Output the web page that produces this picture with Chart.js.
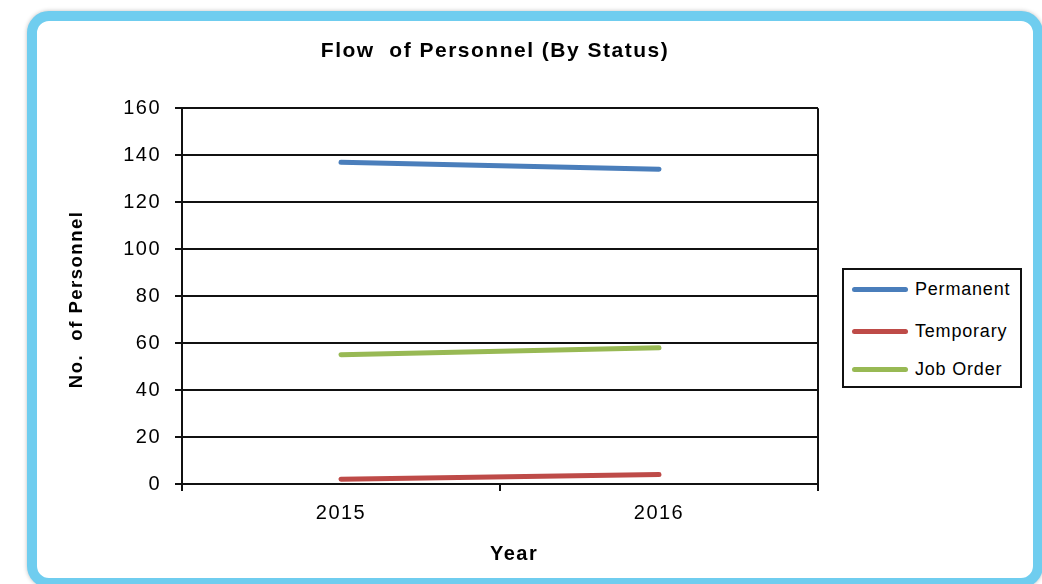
<!DOCTYPE html>
<html>
<head>
<meta charset="utf-8">
<script src="https://cdn.jsdelivr.net/npm/chart.js@4"></script>
<style>
  html, body { margin: 0; padding: 0; background: #fff; overflow: hidden; }
  #frame {
    position: absolute; left: 27px; top: 11px; width: 1016px; height: 577px;
    box-sizing: border-box; border: 10px solid #6fcdef; border-radius: 22px;
    background: #fff; box-shadow: 0 0 4px rgba(0,0,0,0.25);
  }
  #chart { position: absolute; left: 0; top: 0; }
  #legend {
    position: absolute; left: 842px; top: 268px; width: 180px; height: 120px;
    box-sizing: border-box; border: 2px solid #111; background: #fff;
    font-family: "Liberation Sans", Arial, sans-serif; font-size: 18px; letter-spacing: 0.8px;
  }
  .item { position: absolute; left: 0; height: 20px; line-height: 20px; }
  .swatch { position: absolute; left: 8px; top: 8px; width: 56px; height: 5px; border-radius: 3px; }
  .label { position: absolute; left: 71px; top: 0; white-space: nowrap; color: #000; }
</style>
</head>
<body>
<div id="frame"></div>
<canvas id="chart" width="1042" height="584"></canvas>
<div id="legend"></div>
<script>
// chart data
const years = ['2015', '2016'];
const permanent = [137, 134];
const temporary = [2, 4];
const jobOrder = [55, 58];
const seriesNames = ['Permanent', 'Temporary', 'Job Order'];
const seriesColors = ['#4a7ebb', '#be4b48', '#98b954'];

const FONT = '"Liberation Sans", Arial, sans-serif';

// text in the source is slightly stretched, so add a bit of spacing
const spacingPlugin = {
    id: 'spacing',
    beforeLayout(chart) { chart.ctx.letterSpacing = '1.5px'; },
    beforeDraw(chart) { chart.ctx.letterSpacing = '1.5px'; }
};

const chart = new Chart(document.getElementById('chart'), {
    type: 'line',
    data: {
        labels: years,
        datasets: [permanent, temporary, jobOrder].map((values, i) => ({
            label: seriesNames[i],
            data: values,
            borderColor: seriesColors[i],
            backgroundColor: seriesColors[i],
            borderWidth: 5,
            borderCapStyle: 'round',
            pointRadius: 0,
            tension: 0
        }))
    },
    options: {
        responsive: false,
        animation: false,
        layout: { padding: { left: 0, right: 52, top: 0, bottom: 0 } },
        plugins: {
            legend: { display: false },
            tooltip: { enabled: false },
            title: {
                display: true,
                text: 'Flow  of Personnel (By Status)',
                color: '#000',
                font: { family: FONT, size: 21, weight: 'bold' },
                padding: { top: 39, bottom: 44 }
            }
        },
        scales: {
            x: {
                offset: true,
                afterFit: (s) => { s.height = 100; },
                grid: {
                    offset: true,
                    color: (ctx) => ctx.index === 1 ? 'rgba(0,0,0,0)' : '#111',
                    tickColor: '#111',
                    lineWidth: 2,
                    tickLength: 7
                },
                border: { display: true, color: '#111', width: 2 },
                ticks: { color: '#000', font: { family: FONT, size: 20 }, padding: 10 },
                title: {
                    display: true, text: '    Year', color: '#000',
                    font: { family: FONT, size: 20, weight: 'bold' },
                    padding: { top: 0, bottom: 18 }
                }
            },
            y: {
                min: 0,
                max: 160,
                afterFit: (s) => { s.width = 182; },
                grid: { color: '#111', lineWidth: 2, tickLength: 7 },
                border: { display: true, color: '#111', width: 2 },
                ticks: { stepSize: 20, color: '#000', font: { family: FONT, size: 20 }, padding: 14 },
                title: {
                    display: true, text: 'No.  of Personnel ', color: '#000',
                    font: { family: FONT, size: 18.5, weight: 'bold' },
                    padding: { top: 66, bottom: 0 }
                }
            },
            // empty space on the right where the legend sits
            yRight: {
                position: 'right',
                min: 0,
                max: 160,
                afterFit: (s) => { s.width = 172; },
                grid: { display: false },
                border: { display: false },
                ticks: { display: false }
            }
        }
    },
    plugins: [spacingPlugin]
});

// legend box, built from the chart's datasets
const legendBox = document.getElementById('legend');
const rowTops = [9, 51, 89];
chart.data.datasets.forEach((ds, i) => {
    const item = document.createElement('div');
    item.className = 'item';
    item.style.top = rowTops[i] + 'px';
    item.innerHTML = `<span class="swatch" style="background:${ds.borderColor}"></span><span class="label">${ds.label}</span>`;
    legendBox.appendChild(item);
});
</script>
</body>
</html>
